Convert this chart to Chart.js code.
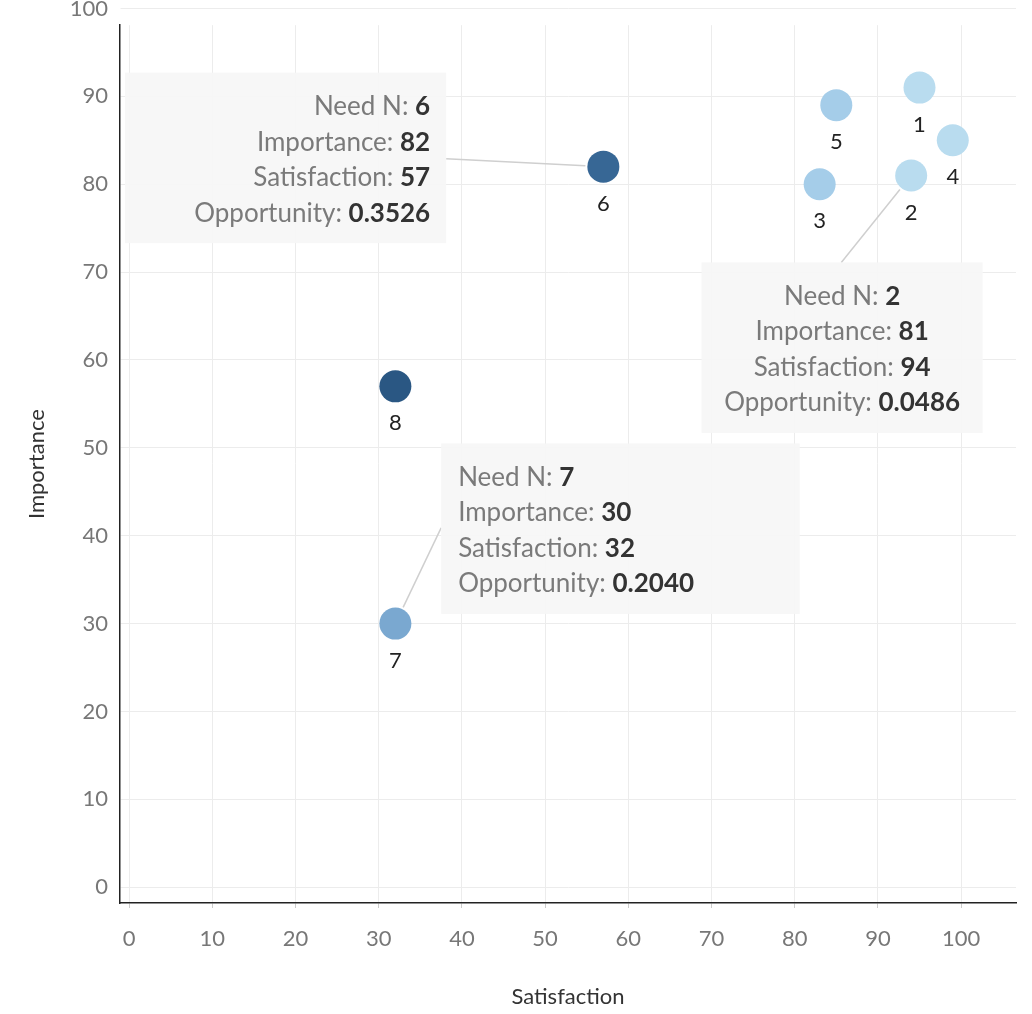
<!DOCTYPE html>
<html>
<head>
<meta charset="utf-8">
<script src="https://cdn.jsdelivr.net/npm/chart.js@4/dist/chart.umd.min.js"></script>
<style>
  body { margin: 0; background: #fff; }
  #wrap { width: 1032px; height: 1014px; }
</style>
</head>
<body>
<div id="wrap"><canvas id="c"></canvas></div>
<script>
const needs = [1, 2, 3, 4, 5, 6, 7, 8];
const satisfaction = [95, 94, 83, 99, 85, 57, 32, 32];
const importance = [91, 81, 80, 85, 89, 82, 30, 57];
const opportunity = [0.0, 0.0486, 0.10, 0.0, 0.10, 0.3526, 0.2040, 0.40];
const colors = ["#b9dcef", "#b9dcef", "#a5cde9", "#b9dcef", "#a5cde9", "#376795", "#7aa8d0", "#2a5783"];
const tickValues = [0, 10, 20, 30, 40, 50, 60, 70, 80, 90, 100];

// callout boxes: which need, box extent in data units, text alignment, leader end on box
const callouts = [
  { need: 6, x0: -0.5, x1: 38.1, y0: 73.3, y1: 92.7, align: "right", lead: [38.1, 82.9] },
  { need: 2, x0: 68.8, x1: 102.6, y0: 51.7, y1: 71.1, align: "center", lead: [85.6, 71.1] },
  { need: 7, x0: 37.5, x1: 80.6, y0: 31.1, y1: 50.5, align: "left", lead: [37.5, 40.9] }
];

const font = "Lato, 'Open Sans', sans-serif";

const labelPlugin = {
  id: "labels",
  afterDatasetsDraw(chart) {
    const ctx = chart.ctx, xs = chart.scales.x, ys = chart.scales.y;
    ctx.save();
    ctx.font = "22px " + font;
    ctx.fillStyle = "#222";
    ctx.textAlign = "center";
    ctx.textBaseline = "middle";
    needs.forEach((n, i) => {
      ctx.fillText(String(n), xs.getPixelForValue(satisfaction[i]), ys.getPixelForValue(importance[i]) + 37);
    });
    callouts.forEach(c => {
      const i = needs.indexOf(c.need);
      const px = xs.getPixelForValue(satisfaction[i]), py = ys.getPixelForValue(importance[i]);
      const bx0 = xs.getPixelForValue(c.x0), bx1 = xs.getPixelForValue(c.x1);
      const by0 = ys.getPixelForValue(c.y1), by1 = ys.getPixelForValue(c.y0);
      const lx = xs.getPixelForValue(c.lead[0]), ly = ys.getPixelForValue(c.lead[1]);
      const dx = px - lx, dy = py - ly, d = Math.hypot(dx, dy);
      ctx.strokeStyle = "#cfcfcf";
      ctx.lineWidth = 1.5;
      ctx.beginPath();
      ctx.moveTo(lx, ly);
      ctx.lineTo(px - dx / d * 18, py - dy / d * 18);
      ctx.stroke();
      ctx.fillStyle = "rgba(247,247,247,0.95)";
      ctx.fillRect(bx0, by0, bx1 - bx0, by1 - by0);
      const rows = [
        ["Need N: ", String(needs[i])],
        ["Importance: ", String(importance[i])],
        ["Satisfaction: ", String(satisfaction[i])],
        ["Opportunity: ", opportunity[i].toFixed(4)]
      ];
      ctx.textBaseline = "middle";
      ctx.textAlign = "left";
      rows.forEach((r, k) => {
        const y = by0 + 34 + k * 35.5;
        ctx.font = "26px " + font;
        const w1 = ctx.measureText(r[0]).width;
        ctx.font = "bold 26px " + font;
        const w2 = ctx.measureText(r[1]).width;
        let x;
        if (c.align === "left") x = bx0 + 17;
        else if (c.align === "right") x = bx1 - 16 - w1 - w2;
        else x = (bx0 + bx1) / 2 - (w1 + w2) / 2;
        ctx.font = "26px " + font;
        ctx.fillStyle = "#7a7a7a";
        ctx.fillText(r[0], x, y);
        ctx.font = "bold 26px " + font;
        ctx.fillStyle = "#333";
        ctx.fillText(r[1], x + w1, y);
      });
    });
    ctx.restore();
  }
};

const fixedTicks = scale => { scale.ticks = tickValues.map(v => ({ value: v })); };

new Chart(document.getElementById("c"), {
  type: "scatter",
  data: {
    datasets: [{
      data: needs.map((n, i) => ({ x: satisfaction[i], y: importance[i] })),
      backgroundColor: colors,
      borderWidth: 0,
      pointRadius: 16,
      pointHoverRadius: 16
    }]
  },
  options: {
    responsive: true,
    maintainAspectRatio: false,
    animation: false,
    layout: { padding: { top: -12, right: 14, left: 20, bottom: 0 } },
    plugins: { legend: { display: false }, tooltip: { enabled: false } },
    scales: {
      x: {
        type: "linear",
        min: -1.1,
        max: 106.6,
        afterBuildTicks: fixedTicks,
        afterFit(s) { s.height = 111; },
        ticks: { color: "#777", font: { size: 22, family: font }, padding: 18 },
        grid: { color: "#ececec", drawTicks: true, tickLength: 5, tickColor: "#ccc" },
        border: { color: "#222", width: 1.5 },
        title: { display: true, text: "Satisfaction", color: "#333", font: { size: 22, family: font }, padding: { top: 4 } }
      },
      y: {
        type: "linear",
        min: -1.8,
        max: 98.1,
        afterBuildTicks: fixedTicks,
        afterFit(s) { s.width = 100; },
        ticks: { color: "#777", font: { size: 22, family: font }, padding: 12 },
        grid: { color: "#ececec", drawTicks: false },
        border: { color: "#222", width: 1.5 },
        title: { display: true, text: "Importance", color: "#333", font: { size: 22, family: font }, padding: { bottom: 20 } }
      }
    }
  },
  plugins: [labelPlugin]
});
</script>
</body>
</html>
